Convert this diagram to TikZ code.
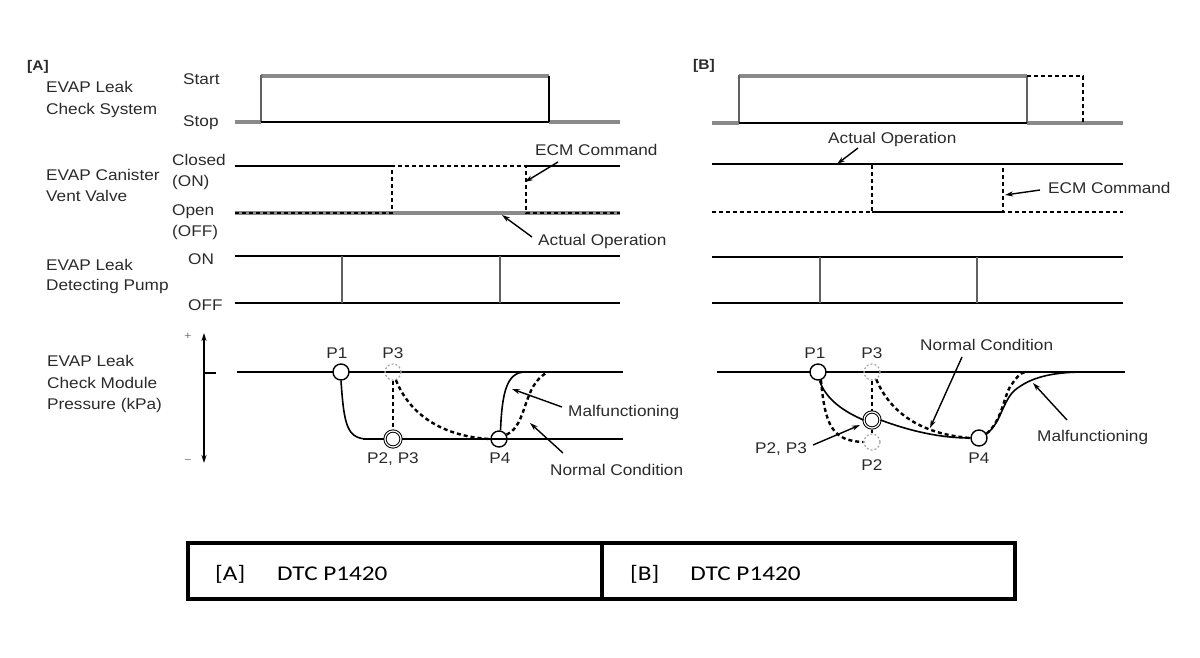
\documentclass[tikz,border=0pt]{standalone}
\usepackage{fontspec}
\setmainfont[FakeStretch=1.11]{Liberation Sans}
\newfontfamily\tabfont[FakeStretch=1.2]{Carlito}
\usetikzlibrary{arrows.meta}
\definecolor{sig}{HTML}{8A8A8A}
\definecolor{txt}{HTML}{2A2A2A}
\begin{document}
\begin{tikzpicture}[x=1pt,y=-1pt,
 lbl/.style={anchor=base west, inner sep=0, font=\fontsize{15.5}{18}\selectfont, text=txt},
 plbl/.style={anchor=base, inner sep=0, font=\fontsize{15.5}{18}\selectfont, text=txt},
 hdr/.style={anchor=base west, inner sep=0, font=\fontsize{14}{16}\selectfont\bfseries, text=txt},
 tlbl/.style={anchor=base west, inner sep=0, font=\fontsize{21}{24}\selectfont\tabfont, text=black},
 sigline/.style={line width=3.2pt, draw=sig},
 blk/.style={line width=1.6pt, draw=black},
 vgr/.style={line width=2pt, draw=sig!70!black},
 dsh/.style={line width=2.4pt, draw=black, dash pattern=on 4pt off 3pt},
 tdsh/.style={line width=1.5pt, draw=black, dash pattern=on 4pt off 3pt},
 arr/.style={line width=1.4pt, draw=black, -{Stealth[length=8pt,width=5pt]}},
 ptc/.style={draw=black, line width=1.4pt, circle, minimum size=16pt, inner sep=0},
 dptc/.style={draw=black!35, line width=1.2pt, dash pattern=on 2pt off 2pt, circle, minimum size=16pt, inner sep=0},
 dblc/.style={draw=black, line width=1pt, double=white, double distance=1.2pt, circle, minimum size=16pt, inner sep=0}]
\useasboundingbox (0,0) rectangle (1200,657);

% ================= Panel A =================
\node[hdr] (hA) at (27,70) {[A]};
\node[lbl] (a1a) at (46,92.7) {EVAP Leak};
\node[lbl] (a1b) at (46,114) {Check System};
\node[lbl] (aStart) at (183,84) {Start};
\node[lbl] (aStop) at (183,126) {Stop};
\node[lbl] (a2a) at (46,180) {EVAP Canister};
\node[lbl] (a2b) at (46,201.7) {Vent Valve};
\node[lbl] (aCl) at (172,165) {Closed};
\node[lbl] (aOn) at (172,186) {(ON)};
\node[lbl] (aOp) at (172,215) {Open};
\node[lbl] (aOff) at (172,236) {(OFF)};
\node[lbl] (a3a) at (46,270) {EVAP Leak};
\node[lbl] (a3b) at (46,290.7) {Detecting Pump};
\node[lbl] (aPOn) at (188,264) {ON};
\node[lbl] (aPOff) at (188,310) {OFF};
\node[lbl] (a4a) at (47,366.7) {EVAP Leak};
\node[lbl] (a4b) at (47,388) {Check Module};
\node[lbl] (a4c) at (47,409) {Pressure (kPa)};
\node[anchor=center, inner sep=0, font=\fontsize{11}{12}\selectfont, text=black!55] (aplus) at (188,336) {+};
\node[anchor=center, inner sep=0, font=\fontsize{11}{12}\selectfont, text=black!55] (aminus) at (188,461) {−};

% signal 1
\draw[sigline] (235,122) -- (261,122);
\draw[sigline] (549,122) -- (620,122);
\draw[sigline] (261,76) -- (549,76);
\draw[vgr] (261,122) -- (261,75);
\draw[blk] (261,122) -- (549,122);
\draw[blk] (549,76) -- (549,122);
% signal 2
\draw[blk] (235,166) -- (392,166);
\draw[blk] (526,166) -- (620,166);
\draw[sigline] (235,213) -- (620,213);
\draw[dsh] (235,213) -- (392,213) -- (392,166) -- (526,166) -- (526,213) -- (620,213);
\node[lbl] (ecmA) at (535,155) {ECM Command};
\coordinate (ecmAs) at (558,162);
\coordinate (ecmAt) at (525,182);
\draw[arr] (ecmAs) -- (ecmAt);
\node[lbl] (actA) at (538,245) {Actual Operation};
\coordinate (actAs) at (532,237);
\coordinate (actAt) at (502,215);
\draw[arr] (actAs) -- (actAt);
% signal 3
\draw[blk] (235,256) -- (620,256);
\draw[blk] (235,303) -- (620,303);
\draw[vgr] (342,256) -- (342,303);
\draw[vgr] (500,256) -- (500,303);
% pressure
\draw[line width=1.4pt, {Stealth[length=8pt,width=5pt]}-{Stealth[length=8pt,width=5pt]}] (204,333) -- (204,463);
\draw[blk] (204,373) -- (216,373);
\draw[blk] (237,372) -- (623,372);
\draw[blk] (363,439) -- (623,439);
\node[ptc, fill=white] (P1a) at (341,372) {};
\node[dptc] (P3a) at (393,372) {};
\node[ptc] (P4a) at (499,439) {};
\draw[blk] (P1a.south) .. controls (344,425) and (347,439) .. (368,439);
\draw[dsh] (P3a.south) -- (393,431);
\draw[dsh] (P3a.-70) .. controls (412,420) and (450,437) .. (P4a.west);
\node[dblc, fill=white] (P23a) at (393,439) {};
\draw[blk] (P4a.80) .. controls (502,395) and (506,372) .. (525,372);
\draw[dsh] (P4a.30) .. controls (528,425) and (522,385) .. (548,372);
\node[plbl] (lP1a) at (337,358) {P1};
\node[plbl] (lP3a) at (393,358) {P3};
\node[plbl] (lP23a) at (393,463) {P2, P3};
\node[plbl] (lP4a) at (500,463) {P4};
\node[lbl] (malA) at (568,416.7) {Malfunctioning};
\coordinate (malAs) at (562,407);
\coordinate (malAt) at (512,389);
\draw[arr] (malAs) -- (malAt);
\node[lbl] (norA) at (550,475) {Normal Condition};
\coordinate (norAs) at (563,453);
\coordinate (norAt) at (530,423);
\draw[arr] (norAs) -- (norAt);

% ================= Panel B =================
\node[hdr] (hB) at (693,69) {[B]};
% signal 1
\draw[sigline] (712,123) -- (739,123);
\draw[sigline] (1027,123) -- (1123,123);
\draw[sigline] (739,76) -- (1027,76);
\draw[vgr] (739,123) -- (739,75);
\draw[vgr] (1027,76) -- (1027,123);
\draw[blk] (739,123) -- (1027,123);
\draw[tdsh] (1027,76) -- (1083,76) -- (1083,123);
\node[lbl] (actB) at (828,143) {Actual Operation};
\coordinate (actBs) at (858,148);
\coordinate (actBt) at (837,164);
\draw[arr] (actBs) -- (actBt);
% signal 2
\draw[blk] (712,164) -- (1123,164);
\draw[dsh] (712,212) -- (872,212) -- (872,164) -- (1003,164) -- (1003,212) -- (1123,212);
\draw[blk] (872,212) -- (1003,212);
\node[lbl] (ecmB) at (1048,193) {ECM Command};
\coordinate (ecmBs) at (1040,190);
\coordinate (ecmBt) at (1005,195);
\draw[arr] (ecmBs) -- (ecmBt);
% signal 3
\draw[blk] (712,257) -- (1123,257);
\draw[blk] (712,303) -- (1123,303);
\draw[vgr] (820,257) -- (820,303);
\draw[vgr] (977,257) -- (977,303);
% pressure
\draw[blk] (717,372) -- (1125,372);
\node[ptc, fill=white] (P1b) at (818,372) {};
\node[dptc] (P3b) at (872,372) {};
\node[dptc] (P2b) at (872,442) {};
\node[ptc] (P4b) at (979,438) {};
\draw[dsh] (P3b.south) -- (P2b.north);
\draw[dsh] (P1b.-70) .. controls (825,425) and (832,441) .. (P2b.west);
\draw[dsh] (P3b.-60) .. controls (890,412) and (920,434) .. (P4b.west);
\node[dblc, fill=white] (P23b) at (872,420) {};
\draw[blk] (P1b.-80) .. controls (826,400) and (845,412) .. (P23b.west);
\draw[blk] (P23b.east) .. controls (910,431) and (940,438) .. (P4b.west);
\draw[blk] (P4b.30) .. controls (1000,425) and (1003,400) .. (1015,390) .. controls (1030,378) and (1050,372) .. (1085,372);
\draw[dsh] (P4b.30) .. controls (1003,420) and (1004,393) .. (1012,384) .. controls (1016,378) and (1020,373) .. (1025,372);
\node[plbl] (lP1b) at (815,358) {P1};
\node[plbl] (lP3b) at (872,358) {P3};
\node[lbl] (lP23b) at (755,453) {P2, P3};
\node[plbl] (lP2b) at (872,470) {P2};
\node[plbl] (lP4b) at (979,463) {P4};
\coordinate (p23s) at (813,445);
\coordinate (p23t) at (860,425);
\draw[arr] (p23s) -- (p23t);
\node[lbl] (norB) at (920,350) {Normal Condition};
\coordinate (norBs) at (962,357);
\coordinate (norBt) at (930,428);
\draw[arr] (norBs) -- (norBt);
\node[lbl] (malB) at (1037,441.7) {Malfunctioning};
\coordinate (malBs) at (1067,420);
\coordinate (malBt) at (1033,383);
\draw[arr] (malBs) -- (malBt);

% ================= Table =================
\draw[line width=3.5pt] (188,543) rectangle (1015,599);
\draw[line width=3.5pt] (602,543) -- (602,599);
\node[tlbl] (cellA) at (215,580) {[A]\hspace{32pt}DTC P1420};
\node[tlbl] (cellB) at (630,580) {[B]\hspace{31pt}DTC P1420};
\end{tikzpicture}
\end{document}
